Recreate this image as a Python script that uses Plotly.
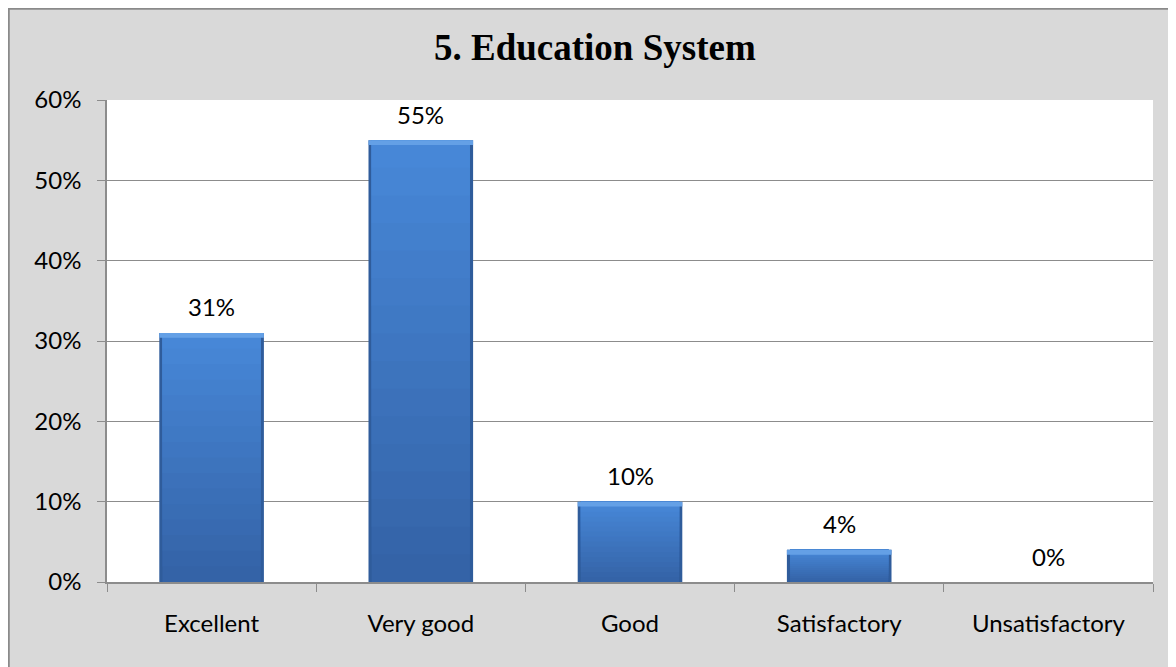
import plotly.graph_objects as go

categories = ["Excellent", "Very good", "Good", "Satisfactory", "Unsatisfactory"]
values = [0.31, 0.55, 0.10, 0.04, 0.00]
labels = ["31%", "55%", "10%", "4%", "0%"]
title_text = "5. Education System"

# page body has an 8px offset; size figure to fill the rest of the 1176x667 window
OFF = 8
W, H = 1176 - OFF, 667 - OFF
L, R, T, B = 107 - OFF, 23, 100 - OFF, 85
pw, ph = W - L - R, H - T - B

FONT = "Lato"

fig = go.Figure()
# dark underlay gives the darker bevelled sides
fig.add_trace(go.Bar(x=categories, y=values, width=0.5,
                     marker=dict(color="#2f5c9b", line=dict(width=0)),
                     hoverinfo="skip", showlegend=False))

# vertical gradient (darker bottom -> lighter top): overlapping layers, each from a
# fraction of the bar height up to the bar top, drawn bottom-first
n = 16
c_bot = (0x34, 0x63, 0xa7)
c_top = (0x47, 0x87, 0xd7)
for i in range(n):
    f = i / (n - 1)
    col = "rgb(%d,%d,%d)" % tuple(round(a + (b - a) * f) for a, b in zip(c_bot, c_top))
    fig.add_trace(go.Bar(x=categories,
                         y=[v * (1 - i / n) for v in values],
                         base=[v * i / n for v in values],
                         width=0.47,
                         marker=dict(color=col, line=dict(width=0)),
                         hoverinfo="skip", showlegend=False))

# light bevel strip along the top edge of each bar
bevel = 0.006
fig.add_trace(go.Bar(x=categories,
                     y=[min(v, bevel) for v in values],
                     base=[v - min(v, bevel) for v in values],
                     width=0.5,
                     marker=dict(color="#64a0e6", line=dict(width=0)),
                     hoverinfo="skip", showlegend=False))

for c, v, t in zip(categories, values, labels):
    fig.add_annotation(x=c, y=v, text=t, showarrow=False, yshift=26,
                       yanchor="middle", font=dict(family=FONT, size=24, color="#000000"))

fig.add_annotation(xref="paper", yref="paper", x=(595 - 107) / pw, y=1 + (100 - 48) / ph,
                   text="<b>" + title_text + "</b>", showarrow=False,
                   xanchor="center", yanchor="middle",
                   font=dict(family="Liberation Serif", size=37, color="#000000"))

# outer chart border (left/top visible, rest clipped)
fig.add_shape(type="rect", xref="paper", yref="paper",
              x0=-L / pw + 0.0005, x1=1.2, y0=-0.5, y1=1 + T / ph - 0.001,
              line=dict(color="#8a8a8a", width=2.5), fillcolor="rgba(0,0,0,0)", layer="above")

fig.update_layout(
    width=W, height=H,
    margin=dict(l=L, r=R, t=T, b=B, pad=0),
    paper_bgcolor="#d9d9d9", plot_bgcolor="#ffffff",
    font=dict(family=FONT, size=24, color="#000000"),
    barmode="overlay",
)
fig.update_yaxes(range=[0, 0.6], dtick=0.1, tickformat=".0%",
                 showgrid=True, gridcolor="#8c8c8c", gridwidth=1,
                 showline=True, linecolor="#8c8c8c", linewidth=1.5,
                 ticks="outside", ticklen=8, tickcolor="#8c8c8c",
                 ticklabelstandoff=11, zeroline=False, fixedrange=True)
fig.update_xaxes(showline=True, linecolor="#8c8c8c", linewidth=1.5,
                 ticks="outside", ticklen=8, tickcolor="#8c8c8c",
                 tickson="boundaries", ticklabelstandoff=19, showgrid=False,
                 fixedrange=True)

fig.write_html("out.html")
